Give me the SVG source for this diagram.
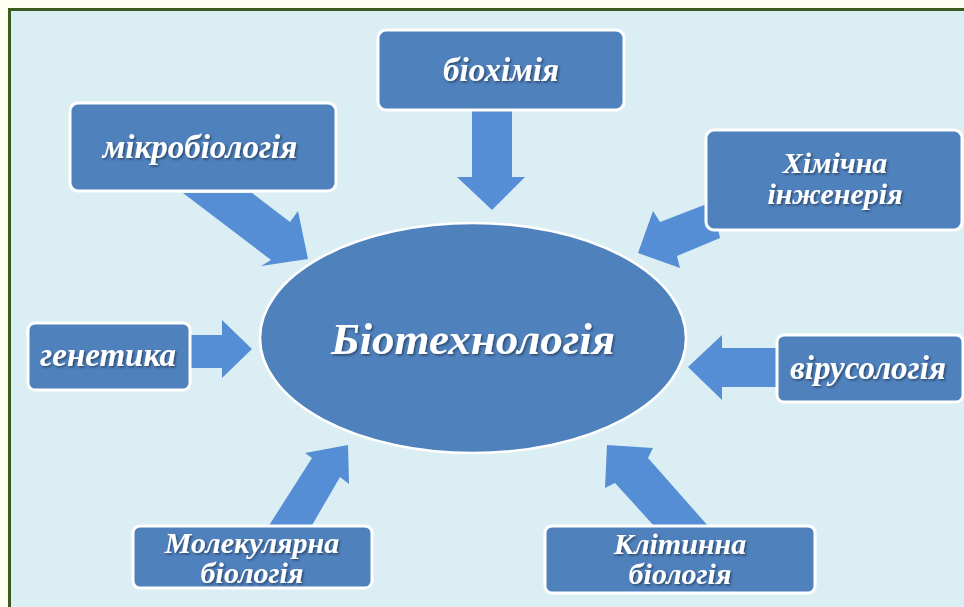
<svg xmlns="http://www.w3.org/2000/svg" width="964" height="607" viewBox="0 0 964 607">
  <defs>
    <filter id="ts" x="-10%" y="-20%" width="120%" height="150%">
      <feDropShadow dx="1.5" dy="1.5" stdDeviation="1" flood-color="#000" flood-opacity="0.45"/>
    </filter>
  </defs>
  <style>
    .box { fill: #4f81bd; stroke: #ffffff; stroke-width: 3; }
    .arrow { fill: #558ed5; stroke: none; }
    .lbl { font-family: "Liberation Serif", "Times New Roman", serif; font-weight: bold; font-style: italic; fill: #ffffff; text-anchor: middle; font-size: 33px; filter: url(#ts); }
    .two { font-size: 30px; }
    .big { font-size: 45px; }
  </style>
  <rect x="0" y="0" width="964" height="607" fill="#fffff0"/>
  <rect x="9.5" y="9.5" width="970" height="620" fill="#dbeef4" stroke="#3b5a1e" stroke-width="3"/>

  <g id="connectors">
    <polygon class="arrow" points="472,110 512,110 512,177 525,177 492,210 457,177 472,177"/>
    <polygon class="arrow" points="183,193 252,193 290,222 298,211 308,259 261,266 271,260"/>
    <polygon class="arrow" points="712,202 660,222 653,211 638,253 680,268 677,256 720,238"/>
    <polygon class="arrow" points="190,335 222,335 222,320 252,349 222,378 222,368 190,368"/>
    <polygon class="arrow" points="777,348 722,348 722,335 688,367 722,400 722,387 777,387"/>
    <polygon class="arrow" points="268,527 312,458 305,453 348,445 349,484 340,477 311,527"/>
    <polygon class="arrow" points="655,527 615,483 605,488 607,445 653,448 648,458 709,527"/>
  </g>

  <g id="center">
    <ellipse cx="473" cy="338" rx="213" ry="115" fill="#4f81bd" stroke="#ffffff" stroke-width="2.5"/>
    <text class="lbl big" x="473" y="354">Біотехнологія</text>
  </g>

  <g id="biochem">
    <rect class="box" x="378" y="30" width="246" height="80" rx="8"/>
    <text class="lbl" x="501" y="81">біохімія</text>
  </g>

  <g id="microbio">
    <rect class="box" x="70" y="103" width="266" height="88" rx="8"/>
    <text class="lbl" x="200" y="158">мікробіологія</text>
  </g>

  <g id="chemeng">
    <rect class="box" x="706" y="130" width="256" height="100" rx="8"/>
    <text class="lbl two" x="835" y="173">Хімічна<tspan x="835" dy="31">інженерія</tspan></text>
  </g>

  <g id="genetics">
    <rect class="box" x="28" y="323" width="162" height="67" rx="7"/>
    <text class="lbl" x="108" y="366">генетика</text>
  </g>

  <g id="virology">
    <rect class="box" x="777" y="335" width="186" height="67" rx="7"/>
    <text class="lbl" x="868" y="379">вірусологія</text>
  </g>

  <g id="molbio">
    <rect class="box" x="133" y="526" width="239" height="62" rx="7"/>
    <text class="lbl two" x="252" y="553">Молекулярна<tspan x="252" dy="30">біологія</tspan></text>
  </g>

  <g id="cellbio">
    <rect class="box" x="545" y="526" width="270" height="67" rx="7"/>
    <text class="lbl two" x="680" y="554">Клітинна<tspan x="680" dy="30">біологія</tspan></text>
  </g>
</svg>
